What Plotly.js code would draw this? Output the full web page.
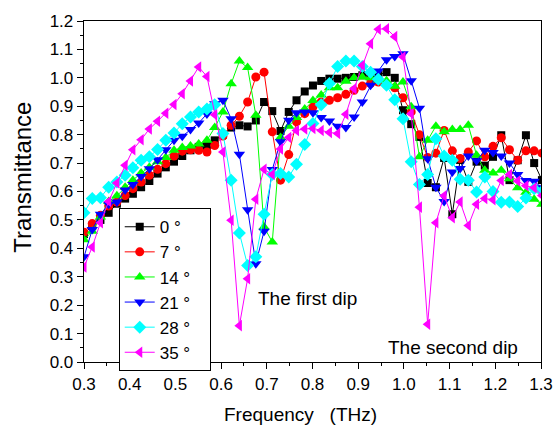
<!DOCTYPE html>
<html>
<head>
<meta charset="utf-8">
<script src="https://cdn.plot.ly/plotly-3.0.1.min.js"></script>
<style>html,body{margin:0;padding:0;background:#fff;}#chart{width:556px;height:426px;}</style>
</head>
<body>
<div id="chart"></div>
<script>
// Frequency grid (THz)
const freq = [0.300,0.318,0.336,0.354,0.372,0.390,0.407,0.425,0.443,0.461,
  0.479,0.497,0.515,0.533,0.551,0.569,0.586,0.604,0.622,0.640,
  0.658,0.676,0.694,0.712,0.730,0.748,0.765,0.783,0.801,0.819,
  0.837,0.855,0.873,0.891,0.909,0.927,0.944,0.962,0.980,0.998,
  1.016,1.034,1.052,1.070,1.088,1.106,1.123,1.141,1.159,1.177,
  1.195,1.213,1.231,1.249,1.267,1.285,1.302];

const angles = ['0 °','7 °','14 °','21 °','28 °','35 °'];

const t0 = [0.45,0.48,0.50,0.525,0.557,0.575,0.592,0.615,0.637,0.663,
  0.685,0.705,0.725,0.745,0.757,0.76,0.78,0.80,0.825,0.833,
  0.829,0.85,0.915,0.883,0.813,0.88,0.921,0.952,0.973,0.989,
  0.997,0.997,1.0,1.003,1.009,1.005,1.01,1.02,1.0,0.886,
  0.837,0.792,0.63,0.615,0.718,0.52,0.711,0.634,0.705,0.691,
  0.722,0.798,0.64,0.71,0.798,0.70,0.64];

const t7 = [0.457,0.487,0.516,0.549,0.563,0.586,0.61,0.633,0.657,0.678,
  0.698,0.725,0.742,0.747,0.745,0.739,0.762,0.795,0.833,0.865,
  0.915,1.003,1.02,0.81,0.64,0.73,0.845,0.874,0.897,0.915,
  0.921,0.93,0.942,0.956,0.971,0.98,0.985,0.975,0.965,0.93,
  0.88,0.80,0.72,0.735,0.815,0.743,0.716,0.739,0.778,0.722,
  0.759,0.789,0.747,0.71,0.743,0.743,0.735];

const t14 = [0.43,0.46,0.51,0.565,0.585,0.615,0.64,0.665,0.685,0.705,
  0.72,0.745,0.755,0.76,0.767,0.78,0.825,0.88,0.979,1.059,
  1.036,0.868,0.475,0.422,0.79,0.83,0.86,0.89,0.92,0.94,
  0.965,0.965,0.988,1.0,1.003,1.0,0.992,0.99,0.97,0.985,
  0.898,0.722,0.78,0.83,0.81,0.818,0.818,0.833,0.728,0.675,
  0.665,0.675,0.645,0.613,0.597,0.573,0.555];

const t21 = [0.37,0.466,0.52,0.555,0.563,0.605,0.625,0.653,0.68,0.712,
  0.747,0.78,0.794,0.818,0.841,0.873,0.909,0.921,0.856,0.731,
  0.536,0.346,0.46,0.677,0.775,0.851,0.877,0.88,0.877,0.86,
  0.848,0.83,0.825,0.862,0.915,0.974,1.024,1.064,1.075,1.085,
  0.99,0.893,0.715,0.615,0.565,0.669,0.681,0.725,0.708,0.745,
  0.737,0.725,0.70,0.66,0.639,0.636,0.613];

const t28 = [0.525,0.575,0.578,0.615,0.633,0.657,0.684,0.71,0.722,0.748,
  0.78,0.806,0.838,0.862,0.88,0.89,0.905,0.804,0.64,0.454,
  0.34,0.37,0.52,0.66,0.663,0.651,0.696,0.765,0.839,0.905,
  0.98,1.04,1.059,1.059,1.04,1.02,0.995,0.974,0.923,0.856,
  0.705,0.625,0.66,0.786,0.725,0.71,0.643,0.64,0.598,0.651,
  0.60,0.562,0.563,0.547,0.577,0.61,0.60];

const t35 = [0.334,0.405,0.49,0.565,0.63,0.692,0.747,0.782,0.82,0.847,
  0.875,0.906,0.944,0.989,1.038,1.005,0.87,0.739,0.499,0.128,
  0.293,0.573,0.678,0.66,0.75,0.79,0.815,0.82,0.822,0.815,
  0.808,0.804,0.872,0.962,1.044,1.12,1.171,1.173,1.145,1.073,
  0.874,0.545,0.133,0.49,0.585,0.508,0.563,0.48,0.555,0.575,
  0.571,0.639,0.66,0.637,0.62,0.613,0.586];

const xTicks = [0.3,0.4,0.5,0.6,0.7,0.8,0.9,1.0,1.1,1.2,1.3];
const yTicks = [0.0,0.1,0.2,0.3,0.4,0.5,0.6,0.7,0.8,0.9,1.0,1.1,1.2];

const series = [t0,t7,t14,t21,t28,t35];
const colors = ['#000000','#ff0000','#00ff00','#0000ff','#00ffff','#ff00ff'];
const symbols = ['square','circle','triangle-up','triangle-down','diamond','triangle-left'];
const sizes = [8,9,10,10,10,10];

const FONT = 'Liberation Sans, Arial, Helvetica, sans-serif';
const NB = '\u00a0';

const data = series.map((ys,k)=>({
  type:'scatter', mode:'lines+markers', name: angles[k] + NB + NB + NB,
  x: freq, y: ys,
  line:{color:colors[k], width:1},
  marker:{color:colors[k], symbol:symbols[k], size:sizes[k], line:{width:0}}
}));

const baseAxis = {
  showgrid:false, zeroline:false, showline:true, linecolor:'#000', linewidth:1.3,
  mirror:true, ticks:'outside', ticklen:6, tickwidth:1, tickcolor:'#000',
  tickfont:{family:FONT, size:17, color:'#000'}
};

const layout = {
  width:556, height:426,
  margin:{l:84, r:15, t:21, b:64},
  paper_bgcolor:'#fff', plot_bgcolor:'#fff',
  font:{family:FONT, color:'#000'},
  showlegend:true,
  legend:{x:0.076, y:0.451, xanchor:'left', yanchor:'top',
    bordercolor:'#000', borderwidth:1, bgcolor:'#fff',
    font:{family:FONT, size:17, color:'#000'}},
  xaxis: Object.assign({}, baseAxis, {
    range:[0.3,1.3], tickmode:'array', tickvals:xTicks, ticktext:xTicks.map(v=>v.toFixed(1)),
    minor:{tickmode:'linear', tick0:0.3, dtick:0.05, ticks:'outside', ticklen:3, tickcolor:'#000', showgrid:false}
  }),
  yaxis: Object.assign({}, baseAxis, {
    range:[0,1.2], tickmode:'array', tickvals:yTicks, ticktext:yTicks.map(v=>v.toFixed(1)),
    minor:{tickmode:'linear', tick0:0, dtick:0.05, ticks:'outside', ticklen:3, tickcolor:'#000', showgrid:false}
  }),
  xaxis2:{overlaying:'x', anchor:'y', side:'top', range:[0.3,1.3], showgrid:false, zeroline:false,
    showline:false, showticklabels:false, ticks:'inside', ticklen:6, tickcolor:'#000',
    tickmode:'array', tickvals:xTicks,
    minor:{tickmode:'linear', tick0:0.3, dtick:0.05, ticks:'inside', ticklen:3, tickcolor:'#000', showgrid:false}},
  yaxis2:{overlaying:'y', anchor:'x', side:'right', range:[0,1.2], showgrid:false, zeroline:false,
    showline:false, showticklabels:false, ticks:'inside', ticklen:6, tickcolor:'#000',
    tickmode:'array', tickvals:yTicks,
    minor:{tickmode:'linear', tick0:0, dtick:0.05, ticks:'inside', ticklen:3, tickcolor:'#000', showgrid:false}},
  annotations:[
    {xref:'paper', yref:'paper', x:0.4737, y:-0.155, xanchor:'center', yanchor:'middle',
     text:'Frequency'+NB+NB+NB+'(THz)', showarrow:false,
     font:{family:FONT, size:19, color:'#000'}},
    {xref:'paper', yref:'paper', x:-0.1335, y:0.5434, xanchor:'center', yanchor:'middle',
     text:'Transmittance', textangle:-90, showarrow:false,
     font:{family:FONT, size:24, color:'#000'}},
    {xref:'x', yref:'y', x:0.79, y:0.224, xanchor:'center', yanchor:'middle',
     text:'The first dip', showarrow:false,
     font:{family:FONT, size:19, color:'#000'}},
    {xref:'x', yref:'y', x:1.107, y:0.052, xanchor:'center', yanchor:'middle',
     text:'The second dip', showarrow:false,
     font:{family:FONT, size:19, color:'#000'}}
  ]
};

Plotly.newPlot('chart', data, layout, {staticPlot:true, displayModeBar:false});
</script>
</body>
</html>
